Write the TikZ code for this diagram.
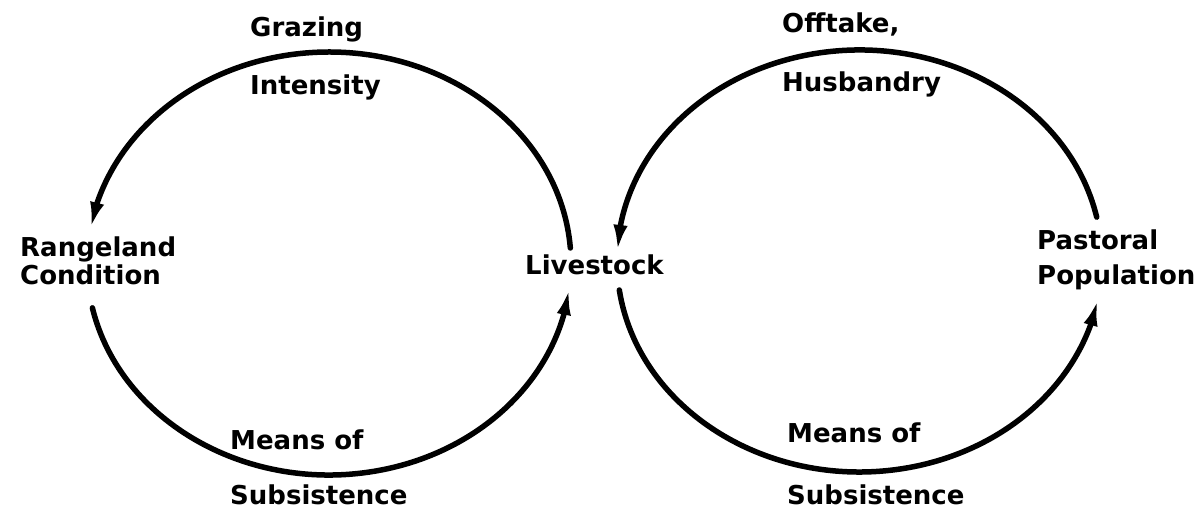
\documentclass[tikz,border=0pt]{standalone}
\usepackage{fontspec}
\newfontfamily\lblfont{DejaVu Sans}
\usetikzlibrary{arrows.meta,bending,calc}
\begin{document}
\begin{tikzpicture}[x=1pt,y=1pt,
  lbl/.style={anchor=base west,inner sep=0pt,
              font=\lblfont\fontsize{26}{28}\selectfont\bfseries},
  loop/.style={line width=5.5pt,line cap=round,
               -{Latex[length=28pt,width=14pt]}}]
\useasboundingbox (0,0) rectangle (1197,519);

% centres of the two feedback loops
\coordinate (lc) at (329,255.5);
\coordinate (rc) at (859.5,258);

% variables
\node[lbl] (range1) at (20,262) {Rangeland};
\node[lbl] (range2) at (20,234) {Condition};
\node[lbl] (stock)  at (525,244) {Livestock};
\node[lbl] (pop1)   at (1037,269) {Pastoral};
\node[lbl] (pop2)   at (1037,234) {Population};

% link labels, one line either side of the loop
\node[lbl] (graz1) at (250,482) {Grazing};
\node[lbl] (graz2) at (250,424) {Intensity};
\node[lbl] (lmean1) at (230,69) {Means of};
\node[lbl] (lmean2) at (230,14) {Subsistence};
\node[lbl] (off1) at (782,486) {Offtake,};
\node[lbl] (off2) at (782,427) {Husbandry};
\node[lbl] (rmean1) at (787,76) {Means of};
\node[lbl] (rmean2) at (787,14) {Subsistence};

% end points of the arcs
\coordinate (lt) at ($(lc)+(4.2:242pt and 211.5pt)$);
\coordinate (lb) at ($(lc)+(192.1:242pt and 211.5pt)$);
\coordinate (rt) at ($(rc)+(12:242.5pt and 211pt)$);
\coordinate (rb) at ($(rc)+(187.9:242.5pt and 211pt)$);

% left loop: livestock -> rangeland -> livestock
\draw[loop] (lt) arc[start angle=4.2,end angle=170.9,x radius=242pt,y radius=211.5pt];
\draw[loop] (lb) arc[start angle=192.1,end angle=353.6,x radius=242pt,y radius=211.5pt];

% right loop: population -> livestock -> population
\draw[loop] (rt) arc[start angle=12,end angle=177.8,x radius=242.5pt,y radius=211pt];
\draw[loop] (rb) arc[start angle=187.9,end angle=349.9,x radius=242.5pt,y radius=211pt];
\end{tikzpicture}
\end{document}
